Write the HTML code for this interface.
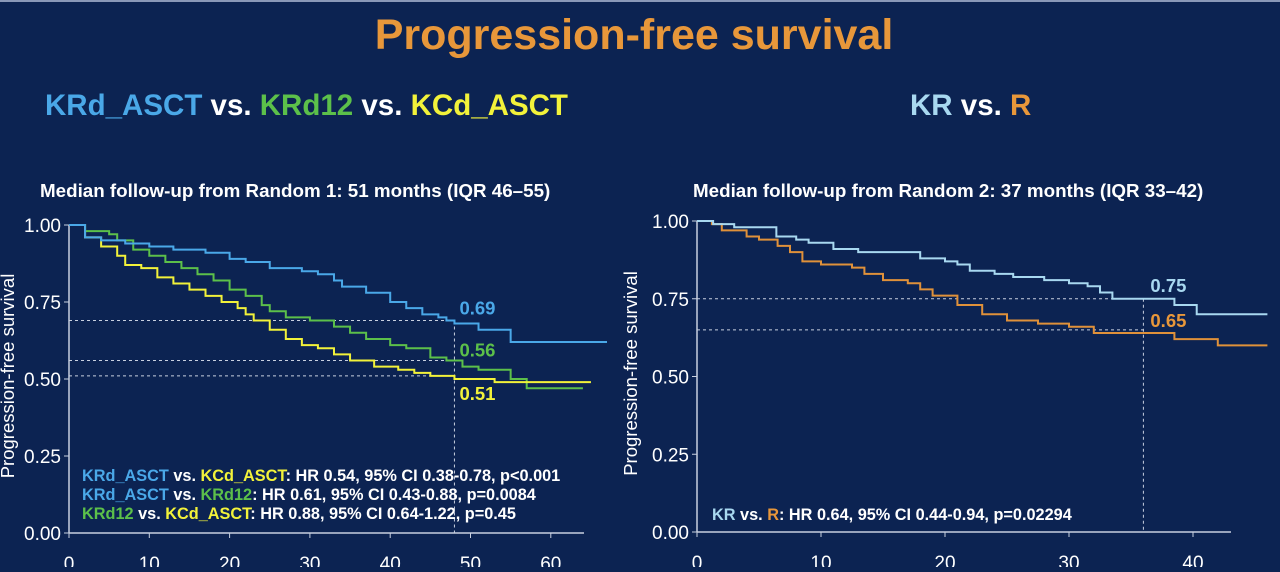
<!DOCTYPE html>
<html><head><meta charset="utf-8"><style>
body{margin:0;background:#0c2352;width:1280px;height:567px;overflow:hidden;font-family:"Liberation Sans",Arial,sans-serif}
svg text{font-family:"Liberation Sans",Arial,sans-serif}
</style></head><body>
<svg id="s" width="1280" height="567">
<rect x="0" y="0" width="1280" height="567" fill="#0c2352"/>
<rect x="0" y="0" width="1280" height="2" fill="#8a98b8"/>
<text x="634" y="49" text-anchor="middle" font-size="43" font-weight="bold" fill="#e8973a">Progression-free survival</text>
<text x="45" y="115" font-size="29.5" font-weight="bold"><tspan fill="#4aa8e8">KRd_ASCT</tspan><tspan fill="#fff"> vs. </tspan><tspan fill="#5cc04a">KRd12</tspan><tspan fill="#fff"> vs. </tspan><tspan fill="#f2f23a">KCd_ASCT</tspan></text>
<text x="910" y="115" font-size="29.5" font-weight="bold"><tspan fill="#a8d8f0">KR</tspan><tspan fill="#fff"> vs. </tspan><tspan fill="#e8973a">R</tspan></text>
<text x="40" y="197" font-size="18.8" font-weight="bold" fill="#fff">Median follow-up from Random 1: 51 months (IQR 46–55)</text>
<text x="693" y="197" font-size="18.8" font-weight="bold" fill="#fff">Median follow-up from Random 2: 37 months (IQR 33–42)</text>
<g id="L"></g><g id="R"></g>
</svg>
<script>
const leftTimesBlue=[0,2,4,7,10,13,17,20,22,25,29,31,33,34,37,40,42,44,46,47,48,51,55,67];
const leftValsBlue=[1,0.96,0.95,0.94,0.93,0.92,0.91,0.89,0.88,0.86,0.85,0.84,0.82,0.80,0.78,0.75,0.73,0.71,0.70,0.69,0.68,0.66,0.62,0.62];
const leftTimesGreen=[0,2,5,6,8,10,12,14,16,18,20,22,24,25,27,30,33,35,37,40,42,45,47,49,51,55,57,64];
const leftValsGreen=[1,0.98,0.97,0.95,0.92,0.90,0.88,0.86,0.84,0.82,0.79,0.77,0.74,0.72,0.70,0.69,0.67,0.65,0.63,0.61,0.60,0.57,0.56,0.54,0.53,0.50,0.47,0.47];
const leftTimesYellow=[0,2,4,6,7,9,11,13,15,17,19,21,22,23,25,27,29,31,33,35,38,41,43,45,48,53,65];
const leftValsYellow=[1,0.96,0.93,0.90,0.87,0.86,0.83,0.81,0.79,0.77,0.75,0.73,0.71,0.69,0.66,0.63,0.61,0.60,0.58,0.56,0.54,0.53,0.52,0.51,0.50,0.49,0.49];
const rightTimesKR=[0,1.3,3,6.4,8,9,11,13,16,18,20,21,22,24,25.5,28,30,31.5,32.5,33.5,38.5,40.3,46];
const rightValsKR=[1,0.99,0.98,0.95,0.94,0.93,0.91,0.90,0.90,0.88,0.87,0.86,0.84,0.83,0.82,0.81,0.80,0.79,0.77,0.75,0.73,0.70,0.70];
const rightTimesR=[0,1.2,2,4,5,6.5,7.5,8.5,10,12.5,13.5,15,17,18,19,21,23,25,27.5,30,32,38.5,42,46];
const rightValsR=[1,0.99,0.97,0.95,0.94,0.92,0.90,0.87,0.86,0.85,0.83,0.81,0.80,0.78,0.76,0.73,0.70,0.68,0.67,0.66,0.64,0.62,0.60,0.60];
const yTicks=[0,0.25,0.5,0.75,1];
const yTickLabels=["0.00","0.25","0.50","0.75","1.00"];
const leftXTicks=[0,10,20,30,40,50,60];
const rightXTicks=[0,10,20,30,40];
const leftMarks=[0.69,0.56,0.51];const leftMarkTime=48;
const rightMarks=[0.75,0.65];const rightMarkTime=36;

const NS="http://www.w3.org/2000/svg";
function mk(p,t,a){const e=document.createElementNS(NS,t);for(const k in a)e.setAttribute(k,a[k]);p.appendChild(e);return e;}
function panel(g,cfg){
  const X=v=>cfg.x0+v*cfg.xs, Y=v=>cfg.y0-v*cfg.ys;
  let e=mk(g,'line',{x1:cfg.x0,y1:Y(1),x2:cfg.x0,y2:cfg.y0,stroke:'#c8d0e0','stroke-width':1.5});
  
  e=mk(g,'line',{x1:cfg.x0,y1:cfg.y0,x2:cfg.xend,y2:cfg.y0,stroke:'#c8d0e0','stroke-width':1.5});
  
  yTicks.forEach((v,i)=>{mk(g,'line',{x1:cfg.x0-5,y1:Y(v),x2:cfg.x0,y2:Y(v),stroke:'#c8d0e0'});
    const t=mk(g,'text',{x:cfg.x0-8,y:Y(v)+7,'text-anchor':'end','font-size':19,fill:'#fff'});t.textContent=yTickLabels[i];
    });
  cfg.xt.forEach(v=>{mk(g,'line',{x1:X(v),y1:cfg.y0,x2:X(v),y2:cfg.y0+5,stroke:'#c8d0e0'});
    const t=mk(g,'text',{x:X(v),y:cfg.y0+37,'text-anchor':'middle','font-size':19,fill:'#fff'});t.textContent=v;
    });
  const yl=mk(g,'text',{x:0,y:0,transform:`translate(${cfg.ytx},${Y(0.5)-3}) rotate(-90)`,'text-anchor':'middle','font-size':18.5,fill:'#fff'});
  yl.textContent='Progression-free survival';
  cfg.marks.forEach(v=>{const l=mk(g,'line',{x1:cfg.x0,y1:Y(v),x2:X(cfg.mt),y2:Y(v),stroke:'#c8d0e0','stroke-dasharray':'3,3','stroke-width':1});
    });
  const vl=mk(g,'line',{x1:X(cfg.mt),y1:Y(Math.max(...cfg.marks)),x2:X(cfg.mt),y2:cfg.y0,stroke:'#c8d0e0','stroke-dasharray':'3,3'});
  
  cfg.series.forEach(s=>{let d=`M${X(s.t[0])},${Y(s.v[0])}`;
    for(let i=1;i<s.t.length;i++){d+=` H${X(s.t[i])} V${Y(s.v[i])}`;}
    const p=mk(g,'path',{d:d,fill:'none',stroke:s.c,'stroke-width':2});
    });
  cfg.labels.forEach(L=>{const t=mk(g,'text',{x:X(cfg.mt)+cfg.lx,y:Y(L.v)+L.dy,'font-size':18.5,'font-weight':'bold',fill:L.c});t.textContent=L.v.toFixed(2);
    });
}
panel(document.getElementById('L'),{x0:69,y0:533,xs:8.03,ys:308,xend:584,ytx:14,lx:5,xt:leftXTicks,marks:leftMarks,mt:leftMarkTime,
  series:[{t:leftTimesGreen,v:leftValsGreen,c:'#5cc04a',n:'krd12-curve'},{t:leftTimesYellow,v:leftValsYellow,c:'#f2f23a',n:'kcd-asct-curve'},{t:leftTimesBlue,v:leftValsBlue,c:'#4aa8e8',n:'krd-asct-curve'}],
  labels:[{v:leftMarks[0],c:'#4aa8e8',dy:-6},{v:leftMarks[1],c:'#5cc04a',dy:-4},{v:leftMarks[2],c:'#f2f23a',dy:24}]});
panel(document.getElementById('R'),{x0:697,y0:532,xs:12.4,ys:311,xend:1231,ytx:637,lx:7,xt:rightXTicks,marks:rightMarks,mt:rightMarkTime,
  series:[{t:rightTimesR,v:rightValsR,c:'#e0913a',n:'r-curve'},{t:rightTimesKR,v:rightValsKR,c:'#a8d8f0',n:'kr-curve'}],
  labels:[{v:rightMarks[0],c:'#a8d8f0',dy:-7},{v:rightMarks[1],c:'#e8973a',dy:-3}]});
</script>
<svg width="1280" height="567" style="position:absolute;left:0;top:0">
<g font-size="16.3" font-weight="bold" fill="#fff" font-family="Liberation Sans, Arial, sans-serif">
<text x="82" y="481"><tspan fill="#4aa8e8">KRd_ASCT</tspan> vs. <tspan fill="#f2f23a">KCd_ASCT</tspan>: HR 0.54, 95% CI 0.38-0.78, p&lt;0.001</text>
<text x="82" y="500"><tspan fill="#4aa8e8">KRd_ASCT</tspan> vs. <tspan fill="#5cc04a">KRd12</tspan>: HR 0.61, 95% CI 0.43-0.88, p=0.0084</text>
<text x="82" y="519"><tspan fill="#5cc04a">KRd12</tspan> vs. <tspan fill="#f2f23a">KCd_ASCT</tspan>: HR 0.88, 95% CI 0.64-1.22, p=0.45</text>
<text x="712" y="520"><tspan fill="#a8d8f0">KR</tspan> vs. <tspan fill="#e8973a">R</tspan>: HR 0.64, 95% CI 0.44-0.94, p=0.02294</text>
</g></svg>
</body></html>
